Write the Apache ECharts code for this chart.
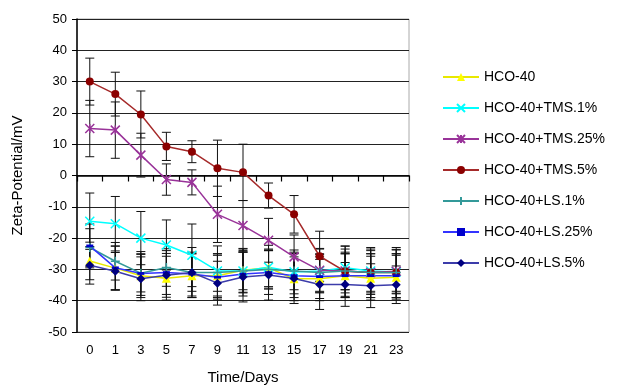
<!DOCTYPE html>
<html>
<head>
<meta charset="utf-8">
<script src="https://cdn.jsdelivr.net/npm/echarts@6/dist/echarts.min.js"></script>
<style>
  html, body { margin: 0; padding: 0; background: #fff; }
  #chart { width: 626px; height: 390px; }
</style>
</head>
<body>
<div id="chart"></div>
<script>
// days on the x axis
const days = ["0", "1", "3", "5", "7", "9", "11", "13", "15", "17", "19", "21", "23"];

// zeta potential (mV) per formulation
const hco40    = [-27.3, -29.6, -32, -32.8, -32, -32, -30.3, -29.5, -33, -33, -32, -32.8, -32.5];
const tms1     = [-14.6, -15.4, -20, -22.2, -25.5, -30.5, -30.5, -29.3, -30.8, -30.5, -29.5, -30.5, -30.8];
const tms25    = [15, 14.5, 6.5, -1.3, -2.2, -12.4, -16, -20.7, -26, -30.3, -30.5, -31, -30.6];
const tms5     = [30, 26, 19.5, 9.3, 7.6, 2.3, 1, -6.4, -12.4, -25.8, -30.6, -31, -31];
const ls1      = [-23, -27.4, -31.2, -29.4, -31, -31, -30.5, -30, -30.5, -31, -30.5, -31, -31];
const ls25     = [-22.5, -29.5, -31.3, -31, -31.5, -32.5, -31.5, -31, -32, -32.3, -32, -32, -32];
const ls5      = [-28.7, -30.6, -33, -31.9, -31, -34.4, -32.4, -31.8, -32.9, -34.8, -34.8, -35.2, -34.9];

// standard deviation (error bar half length)
const hco40Err = [6, 7, 7, 7, 7, 7, 7, 6, 7, 7, 7, 7, 7];
const tms1Err  = [9, 8.7, 8.5, 8, 10, 8, 7, 7, 7, 7, 7, 7, 7];
const tms25Err = [9, 9, 7, 5, 4, 9, 8, 7, 7, 7, 7, 7, 7];
const tms5Err  = [7.5, 7, 7.5, 4.5, 3.5, 9, 9, 4, 6, 8, 8, 8, 8];
const ls1Err   = [6, 6, 6, 6, 6, 6, 6, 6, 6, 6, 6, 6, 6];
const ls25Err  = [7, 7, 7, 7, 7, 7, 7, 7, 7, 7, 7, 7, 7];
const ls5Err   = [6, 6, 7, 7, 8, 7, 8, 8, 8, 8, 7, 7, 6];

const yTicks = { min: -50, max: 50, step: 10 };

const chart = echarts.init(document.getElementById("chart"));

const groups = [
  { name: "HCO-40", data: hco40, err: hco40Err, line: "#e8e800", mark: "#ffff00", symbol: "triangle", size: 9 },
  { name: "HCO-40+TMS.1%", data: tms1, err: tms1Err, line: "#00ffff", mark: "#00ffff", symbol: "path://M0,0L10,10M10,0L0,10", size: 9, stroke: true },
  { name: "HCO-40+TMS.25%", data: tms25, err: tms25Err, line: "#993399", mark: "#993399", symbol: "path://M0,0L10,10M10,0L0,10M5,0L5,10", size: 9, stroke: true },
  { name: "HCO-40+TMS.5%", data: tms5, err: tms5Err, line: "#a52a2a", mark: "#8b0000", symbol: "circle", size: 8 },
  { name: "HCO-40+LS.1%", data: ls1, err: ls1Err, line: "#339999", mark: "#339999", symbol: "path://M5,0L5,10M0,5L10,5", size: 9, stroke: true },
  { name: "HCO-40+LS.25%", data: ls25, err: ls25Err, line: "#3333ff", mark: "#0000cc", symbol: "path://M0,0L10,0L10,4L0,4Z", size: 7 },
  { name: "HCO-40+LS.5%", data: ls5, err: ls5Err, line: "#3c3caa", mark: "#000080", symbol: "diamond", size: 9 }
];

// one custom series for all error bars
const errData = [];
groups.forEach(g => {
  g.data.forEach((v, i) => errData.push([i, v, g.err[i]]));
});

const series = groups.map(g => ({
  name: g.name,
  type: "line",
  data: g.data,
  symbol: g.symbol,
  symbolSize: g.size,
  symbolKeepAspect: true,
  showAllSymbol: true,
  z: 3,
  lineStyle: { color: g.line, width: 1.5 },
  itemStyle: g.stroke
    ? { color: g.mark, borderColor: g.mark, borderWidth: 1.5 }
    : { color: g.mark, borderColor: g.mark, borderWidth: 0 }
}));

series.unshift({
  type: "custom",
  silent: true,
  z: 2,
  data: errData,
  renderItem: (params, api) => {
    const x = api.value(0), v = api.value(1), e = api.value(2);
    const top = api.coord([x, v + e]);
    const bot = api.coord([x, v - e]);
    const w = 4.5;
    const st = { stroke: "#111", lineWidth: 1 };
    return {
      type: "group",
      children: [
        { type: "line", shape: { x1: top[0], y1: top[1], x2: bot[0], y2: bot[1] }, style: st },
        { type: "line", shape: { x1: top[0] - w, y1: top[1], x2: top[0] + w, y2: top[1] }, style: st },
        { type: "line", shape: { x1: bot[0] - w, y1: bot[1], x2: bot[0] + w, y2: bot[1] }, style: st }
      ]
    };
  }
});

const font = "Liberation Sans, Arial, sans-serif";

chart.setOption({
  animation: false,
  textStyle: { fontFamily: font },
  grid: {
    left: 77, right: 217, top: 19, bottom: 56,
    show: true, borderColor: "#aaa", borderWidth: 1, backgroundColor: "#fff"
  },
  legend: {
    orient: "vertical",
    left: 437, top: 65,
    itemWidth: 36, itemHeight: 10, itemGap: 17,
    data: groups.map(g => g.name),
    textStyle: { fontFamily: font, fontSize: 14, color: "#000" }
  },
  xAxis: {
    type: "category",
    data: days,
    boundaryGap: true,
    name: "Time/Days",
    nameLocation: "middle",
    nameGap: 38,
    nameTextStyle: { fontSize: 15, color: "#000" },
    axisLine: { lineStyle: { color: "#000", width: 1.5 } },
    axisTick: { show: true, alignWithLabel: false, length: 6, lineStyle: { color: "#000", width: 1.2 } },
    axisLabel: { fontSize: 13, color: "#000", margin: 12, interval: 0 },
    splitLine: { show: false }
  },
  yAxis: {
    type: "value",
    min: yTicks.min, max: yTicks.max, interval: yTicks.step,
    name: "Zeta-Potential/mV",
    nameLocation: "middle",
    nameGap: 52,
    nameTextStyle: { fontSize: 15, color: "#000" },
    axisLine: { show: true, lineStyle: { color: "#000", width: 1.5 } },
    axisTick: { show: true, length: 5, lineStyle: { color: "#000" } },
    axisLabel: { fontSize: 13, color: "#000", margin: 10 },
    splitLine: { show: true, lineStyle: { color: "#222", width: 1.2 } }
  },
  series: series
});
</script>
</body>
</html>
